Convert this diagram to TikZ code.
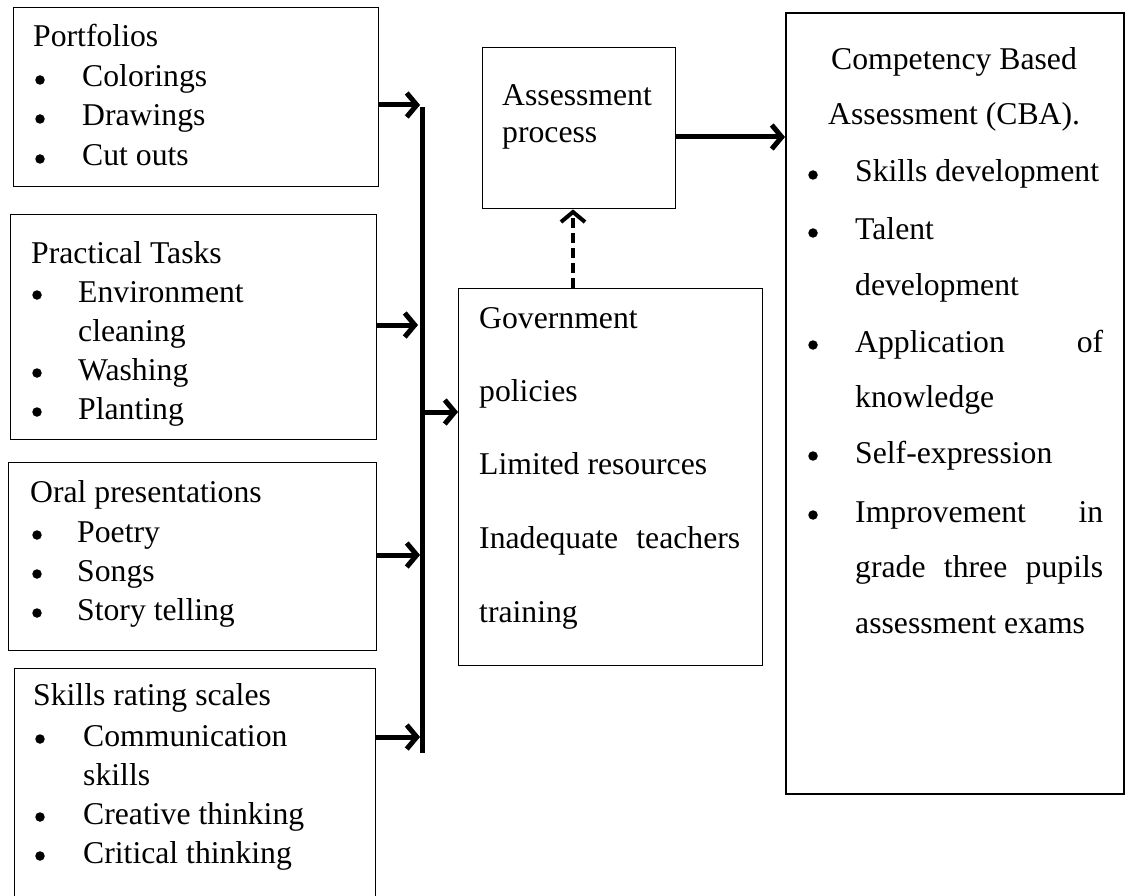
\documentclass[tikz,border=0pt]{standalone}
\usepackage{fontspec}
\setmainfont{Liberation Serif}
\usetikzlibrary{arrows.meta}
\begin{document}
\begin{tikzpicture}[x=1pt,y=-1pt,
  font=\fontsize{31.7}{40}\selectfont,
  box/.style={draw, line width=1.4pt, inner sep=0pt, anchor=north west},
  txt/.style={inner sep=0pt, anchor=base west},
  bul/.style={circle, fill, inner sep=0pt, minimum size=9.5pt},
  arr/.style={line width=5pt, -{Straight Barb[length=10pt,width=24pt]}},
  dasharr/.style={line width=4pt, dash pattern=on 10pt off 5pt, -{Straight Barb[length=10pt,width=24pt]}}]
\useasboundingbox (0,0) rectangle (1130,896);
\clip (0,0) rectangle (1130,896);
% boxes
\node[box, minimum width=365pt, minimum height=179pt] (b1) at (13,7) {};
\node[box, minimum width=366pt, minimum height=225pt] (b2) at (10,214) {};
\node[box, minimum width=368pt, minimum height=188pt] (b3) at (8,462) {};
\node[box, minimum width=361pt, minimum height=260pt] (b4) at (14,668) {};
\node[box, minimum width=304pt, minimum height=377pt] (gov) at (458,288) {};
\node[box, minimum width=193pt, minimum height=161pt] (ap) at (482,47) {};
\node[box, line width=1.8pt, minimum width=338pt, minimum height=781pt] (cba) at (785,12) {};
% box 1
\node[txt] (t11) at (33,47) {Portfolios};
\node[bul] (u11) at (40,80) {};
\node[txt] (t12) at (82,87) {Colorings};
\node[bul] (u12) at (40,119) {};
\node[txt] (t13) at (82,126) {Drawings};
\node[bul] (u13) at (40,159) {};
\node[txt] (t14) at (82,166) {Cut outs};
% box 2
\node[txt] (t21) at (31,263) {Practical Tasks};
\node[bul] (u21) at (37,295) {};
\node[txt] (t22) at (78,302) {Environment};
\node[txt] (t23) at (78,341) {cleaning};
\node[bul] (u22) at (37,373) {};
\node[txt] (t24) at (78,380) {Washing};
\node[bul] (u23) at (37,412) {};
\node[txt] (t25) at (78,419) {Planting};
% box 3
\node[txt] (t31) at (30,502) {Oral presentations};
\node[bul] (u31) at (37,535) {};
\node[txt] (t32) at (77,542) {Poetry};
\node[bul] (u32) at (37,574) {};
\node[txt] (t33) at (77,581) {Songs};
\node[bul] (u33) at (37,613) {};
\node[txt] (t34) at (77,620) {Story telling};
% box 4
\node[txt] (t41) at (33,705) {Skills rating scales};
\node[bul] (u41) at (40,739) {};
\node[txt] (t42) at (83,746) {Communication};
\node[txt] (t43) at (83,785) {skills};
\node[bul] (u42) at (40,817) {};
\node[txt] (t44) at (83,824) {Creative thinking};
\node[bul] (u43) at (40,856) {};
\node[txt] (t45) at (83,863) {Critical thinking};
% government box
\node[txt] (g1) at (479,328) {Government};
\node[txt] (g2) at (479,401) {policies};
\node[txt] (g3) at (479,474) {Limited resources};
\node[txt] (g4) at (479,548) {\makebox[261pt][s]{Inadequate teachers}};
\node[txt] (g5) at (479,622) {training};
% assessment process
\node[txt] (p1) at (502,106) {Assessment};
\node[txt] (p2) at (502,143) {process};
% CBA
\node[txt] (c1) at (831,70) {Competency Based};
\node[txt] (c2) at (828,125) {Assessment (CBA).};
\node[bul] (cu1) at (813,175) {};
\node[txt] (c3) at (855,182) {Skills development};
\node[bul] (cu2) at (813,233) {};
\node[txt] (c4) at (855,240) {Talent};
\node[txt] (c5) at (855,295) {development};
\node[bul] (cu3) at (813,345) {};
\node[txt] (c6) at (855,352) {\makebox[248pt][s]{Application of}};
\node[txt] (c7) at (855,407) {knowledge};
\node[bul] (cu4) at (813,456) {};
\node[txt] (c8) at (855,463) {Self-expression};
\node[bul] (cu5) at (813,515) {};
\node[txt] (c9) at (855,522) {\makebox[248pt][s]{Improvement in}};
\node[txt] (c10) at (855,577) {\makebox[248pt][s]{grade three pupils}};
\node[txt] (c11) at (855,633) {assessment exams};
% bar and connectors
\coordinate (bartop) at (422,107);
\coordinate (barbot) at (422,753);
\draw[line width=5pt] (bartop) -- (barbot);
\coordinate (j1) at (420,105);
\coordinate (j2) at (418,325);
\coordinate (j3) at (422,412);
\coordinate (j4) at (420,555);
\coordinate (j5) at (420,737);
\draw[arr] (b1.east |- j1) -- (j1);
\draw[arr] (b2.east |- j2) -- (j2);
\draw[arr] (j3) -- (gov.west |- j3);
\draw[arr] (b3.east |- j4) -- (j4);
\draw[arr] (b4.east |- j5) -- (j5);
\coordinate (k1) at (675,137);
\draw[arr] (ap.east |- k1) -- (cba.west |- k1);
\coordinate (k2) at (573,250);
\draw[dasharr] (gov.north -| k2) -- (ap.south -| k2);
\end{tikzpicture}
\end{document}
